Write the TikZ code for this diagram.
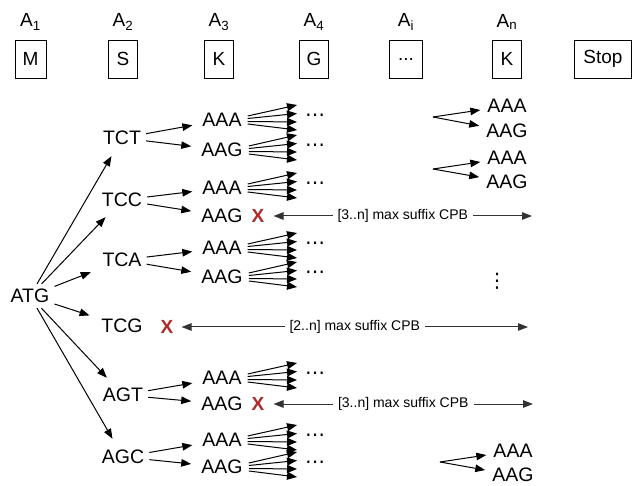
\documentclass[tikz,border=0pt]{standalone}
\usepackage{fontspec}
\setmainfont{Liberation Sans}
\newfontfamily\symfont{DejaVu Sans}
\usetikzlibrary{arrows.meta,calc}

\definecolor{xred}{HTML}{B02A2A}

\tikzset{
  codon/.style={inner sep=5pt, font=\fontsize{19.5}{22}\selectfont},
  aabox/.style={draw, line width=0.8pt, minimum width=29pt, minimum height=38pt, inner sep=2pt, font=\fontsize{19}{22}\selectfont},
  poslabel/.style={inner sep=1pt, font=\fontsize{19}{22}\selectfont},
  tree/.style={-{Triangle[length=10pt,width=7.5pt]}, line width=1pt, shorten >=5pt},
  fan/.style={-{Triangle[length=10pt,width=8pt]}, line width=1pt},
  span/.style={{Triangle[length=10pt,width=7.5pt]}-{Triangle[length=10pt,width=7.5pt]}, line width=1pt, black!80},
  cross/.style={inner sep=0pt, text=xred, font=\fontsize{19}{22}\selectfont\bfseries},
  spanlabel/.style={fill=white, inner sep=5pt, text=black, font=\fontsize{14}{16}\selectfont},
  more/.style={inner sep=0pt, font=\fontsize{20}{22}\symfont},
}

% fan of arrows out of a codon, then the dots
\newcommand{\fanout}[1]{%
  \foreach \s/\t in {-4/-15,-1.5/-6.5,1.5/2,4/10}
    \draw[fan] ($(#1.east)+(1,\s)$) -- ($(#1.east -| fanend)+(0,\t)$);
  \node[more] (#1dots) at ($(#1.east -| dotcol)+(0,-2)$) {⋯};
}

\begin{document}
\begin{tikzpicture}[x=1pt, y=-1pt]
    \useasboundingbox (0,0) rectangle (632,486);
    \coordinate (fanend) at (297,0);
    \coordinate (dotcol) at (315,0);

    % Amino acid positions
    \node[poslabel] (p1) at (30.5,22) {A\textsubscript{1}};
    \node[poslabel] (p2) at (123,22) {A\textsubscript{2}};
    \node[poslabel] (p3) at (219,22) {A\textsubscript{3}};
    \node[poslabel] (p4) at (314,22) {A\textsubscript{4}};
    \node[poslabel] (pi) at (406,22) {A\textsubscript{i}};
    \node[poslabel] (pn) at (507,22) {A\textsubscript{n}};

    % Amino acid boxes
    \node[aabox, minimum width=31pt] (m) at (30.5,59) {M};
    \node[aabox] (s) at (123,59) {S};
    \node[aabox] (k) at (219,59) {K};
    \node[aabox] (g) at (314,59) {G};
    \node[aabox, minimum width=33pt] (etc) at (406,59) {...};
    \node[aabox] (kn) at (507,59) {K};
    \node[aabox, minimum width=57pt] (stop) at (603,59) {Stop};

    % Start codon and serine codons
    \node[codon] (atg) at (30,296) {ATG};
    \node[codon] (tct) at (122,138) {TCT};
    \node[codon] (tcc) at (122,200) {TCC};
    \node[codon] (tca) at (122,260) {TCA};
    \node[codon] (tcg) at (122,326) {TCG};
    \node[codon] (agt) at (123,395) {AGT};
    \node[codon] (agc) at (123,457) {AGC};

    \foreach \c in {tct,tcc,tca,tcg,agt,agc}
        \draw[tree, shorten >=7pt] (atg) -- (\c);

    % Lysine codons
    \node[codon] (tctA) at (222,120) {AAA};
    \node[codon] (tctG) at (222,150) {AAG};
    \node[codon] (tccA) at (222,188) {AAA};
    \node[codon] (tccG) at (222,216) {AAG};
    \node[codon] (tcaA) at (222,248) {AAA};
    \node[codon] (tcaG) at (222,277) {AAG};
    \node[codon] (agtA) at (222,378) {AAA};
    \node[codon] (agtG) at (222,404) {AAG};
    \node[codon] (agcA) at (222,440) {AAA};
    \node[codon] (agcG) at (222,467) {AAG};

    \foreach \c in {tct,tcc,tca,agt,agc} {
        \draw[tree] (\c) -- (\c A);
        \draw[tree] (\c) -- (\c G);
    }

    \foreach \l in {tctA,tctG,tccA,tcaA,tcaG,agtA,agcA,agcG} {
        \fanout{\l}
    }

    % Pruned branches
    \node[cross] (xtcc) at (258,216) {X};
    \node[cross] (xtcg) at (167,327) {X};
    \node[cross] (xagt) at (258,404) {X};
    \coordinate (etcc) at (532,216);
    \coordinate (etcg) at (528,327);
    \coordinate (eagt) at (533,404);

    \draw[span] ([xshift=9pt]xtcc.east) -- (etcc) node[midway, spanlabel] {[3..n] max suffix CPB};
    \draw[span] ([xshift=8pt]xtcg.east) -- (etcg) node[midway, spanlabel] {[2..n] max suffix CPB};
    \draw[span] ([xshift=9pt]xagt.east) -- (eagt) node[midway, spanlabel] {[3..n] max suffix CPB};

    % Last position
    \coordinate (o1) at (433,117);
    \coordinate (o2) at (433,169);
    \coordinate (o3) at (440,462);
    \node[codon] (r1A) at (507,106) {AAA};
    \node[codon] (r1G) at (507,131) {AAG};
    \node[codon] (r2A) at (507,158) {AAA};
    \node[codon] (r2G) at (507,182) {AAG};
    \node[codon] (r3A) at (513,451) {AAA};
    \node[codon] (r3G) at (513,475) {AAG};
    \foreach \o/\r in {o1/r1,o2/r2,o3/r3} {
        \draw[tree, shorten >=2pt] (\o) -- (\r A);
        \draw[tree, shorten >=2pt] (\o) -- (\r G);
    }

    \node[more] (vdots) at (497,281) {⋮};
\end{tikzpicture}
\end{document}
